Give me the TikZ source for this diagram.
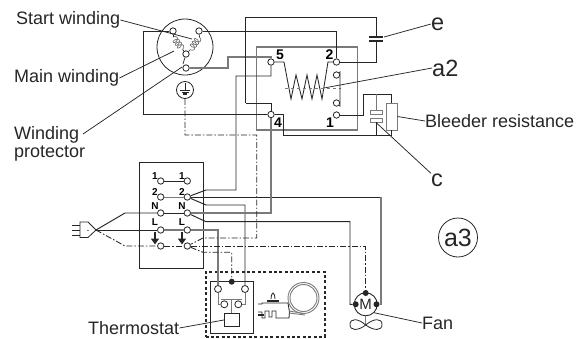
\documentclass[tikz,border=0pt]{standalone}
\usepackage{fontspec}
\setmainfont{Liberation Sans}
\usetikzlibrary{arrows.meta}
\usetikzlibrary{decorations.pathmorphing}
\definecolor{inkdark}{HTML}{262626}
\definecolor{wiregray}{HTML}{7A7A7A}
\tikzset{
  wire/.style={line width=.95pt, color=inkdark},
  graywire/.style={line width=1.3pt, color=wiregray},
  earthwire/.style={line width=.85pt, color=inkdark, dash pattern=on 6pt off 2pt on 1.5pt off 2pt},
  leader/.style={line width=.75pt, color=inkdark},
  coilwire/.style={decorate, decoration={coil,aspect=.6,segment length=3.4pt,amplitude=3.2pt},
    color=wiregray, line width=.75pt},
  box/.style={draw=inkdark, line width=.95pt, inner sep=0pt, minimum width=#1},
  term/.style={circle, draw=inkdark, line width=.8pt, fill=white, inner sep=0pt, minimum size=6.4pt},
  blackdot/.style={circle, fill=inkdark, inner sep=0pt, minimum size=6pt},
  label/.style={text=inkdark, font=\fontsize{18}{18}\selectfont, inner sep=0pt, anchor=west},
  biglabel/.style={text=inkdark, font=\fontsize{23.5}{24}\selectfont, inner sep=0pt, anchor=west},
  pin/.style={text=black, font=\fontsize{14}{14}\selectfont\bfseries, inner sep=0pt},
  rowpin/.style={text=black, font=\fontsize{10}{10}\selectfont\bfseries, inner sep=0pt},
}

\begin{document}
\begin{tikzpicture}[x=1pt,y=-1pt]

  \newcommand\XL{160.7}
  \newcommand\XR{187.3}

  \useasboundingbox (0,0) rectangle (579,338);

  %% boxes
  \node[circle, draw=inkdark, line width=.8pt, inner sep=0pt, minimum size=56pt] (comp) at (185,47) {};
  \node[box=100.7pt, draw=wiregray, line width=1.2pt, minimum height=83pt] (relay) at (307,88.5) {};
  \node[box=64pt, minimum height=106pt] (block) at (171.7,215) {};
  \node[box=119.3pt, line width=1.7pt, dash pattern=on 3pt off 2.4pt, minimum height=65pt] (kit) at (265.3,304.2) {};
  \node[box=43pt, minimum height=51.6pt] (thermo) at (231.5,307.5) {};
  \node[box=14.7pt, minimum height=13.4pt] (sensor) at (231.7,320) {};

  %% compressor terminals
  \node[term] (start) at (173,31) {};
  \node[term] (run) at (199,31) {};
  \node[term] (common) at (186,54) {};
  \node[term] (prot) at (186,68) {};
  \node[circle, draw=inkdark, line width=.8pt, inner sep=0pt, minimum size=17pt] (earth) at (185,90) {};
  \coordinate (coilAtop) at (173,37);
  \coordinate (coilAend) at (183,50);
  \coordinate (coilBtop) at (199.5,37);
  \coordinate (coilBend) at (190,50);

  %% relay terminals
  \node[term] (t5) at (271,62) {};
  \node[term] (t4) at (271,114.5) {};
  \node[term] (t2) at (336.5,62) {};
  \node[term] (t2b) at (336.5,75) {};
  \node[term] (t1b) at (336.5,103) {};
  \node[term] (t1) at (336.5,115) {};
  \node[pin] at (280,55) {5};
  \node[pin] at (329.5,55) {2};
  \node[pin] at (278,123) {4};
  \node[pin] at (330,123) {1};

  %% block terminals
  \node[term] (a1) at (\XL,181) {};
  \node[term] (b1) at (\XR,181) {};
  \node[term] (a2) at (\XL,197) {};
  \node[term] (b2) at (\XR,197) {};
  \node[term] (aN) at (\XL,213) {};
  \node[term] (bN) at (\XR,213) {};
  \node[term] (aL) at (\XL,230) {};
  \node[term] (bL) at (\XR,230) {};
  \node[term] (aE) at (\XL,246) {};
  \node[term] (bE) at (\XR,246) {};
  \node[rowpin] at (155,176) {1};
  \node[rowpin] at (182,176) {1};
  \node[rowpin] at (155,192) {2};
  \node[rowpin] at (182,192) {2};
  \node[rowpin] at (155,206) {N};
  \node[rowpin] at (182,206) {N};
  \node[rowpin] (pinL) at (155,222) {L};
  \node[rowpin] (pinLb) at (182,222) {L};

  %% thermostat terminals
  \node[term, minimum size=7pt] (thL) at (218,289) {};
  \node[term, minimum size=7pt] (thR) at (245,289) {};
  \node[term, minimum size=7pt] (thC) at (224.3,304.3) {};
  \node[term, minimum size=7pt] (thD) at (238.3,304.3) {};
  \node[blackdot] (thTop) at (231.7,281.7) {};

  %% motor
  \node[circle, draw=inkdark, line width=.9pt, inner sep=0pt, minimum size=23pt] (motor) at (365.7,304.3) {};
  \node[text=inkdark, font=\fontsize{15}{15}\selectfont] at (motor) {M};
  \node[blackdot] (mTop) at (365.7,293) {};
  \node[blackdot] (mLeft) at (355.7,304.3) {};
  \node[blackdot] (mRight) at (376.5,304.3) {};
  \coordinate (hub) at (365.7,325);

  %% capacitors and resistor
  \node[box=12pt, draw=wiregray, minimum height=4pt] (capTop) at (376,112) {};
  \node[box=12pt, draw=wiregray, minimum height=4pt] (capBot) at (376,120) {};
  \node[box=11pt, draw=wiregray, minimum height=27pt] (bleed) at (391.5,116.5) {};
  \coordinate (plateA) at (376,37);
  \coordinate (plateB) at (376,41);
  \coordinate (plug) at (96,230);

  %% labels
  \node[label] (lStart) at (16,20) {Start winding};
  \node[label] (lMain) at (14,78) {Main winding};
  \node[label, align=left] (lProt) at (14,144) {Winding\\protector};
  \node[label] (lBleed) at (425,121) {Bleeder resistance};
  \node[label] (lThermo) at (88,328) {Thermostat};
  \node[label] (lFan) at (422,323) {Fan};
  \node[biglabel] (lE) at (431,24) {e};
  \node[biglabel] (la2) at (432,68) {a2};
  \node[biglabel] (lC) at (431,180) {c};
  \node[circle, draw=inkdark, line width=.8pt, inner sep=0pt, minimum size=39pt,
    text=inkdark, font=\fontsize{25}{25}\selectfont] (la3) at (458,237.5) {a3};

  %% leaders
  \coordinate (startEnd) at (192,39);
  \coordinate (mainEnd) at (174,51);
  \coordinate (protEnd) at (182,67);
  \coordinate (protStart) at (83,134);
  \coordinate (capEnd) at (384,37);
  \coordinate (relayEnd) at (324,88);
  \draw[leader] (lStart.east) -- (startEnd);
  \draw[leader] (lMain.east) -- (mainEnd);
  \draw[leader] (protStart) -- (protEnd);
  \draw[leader] (capEnd) -- (lE.west);
  \draw[leader] (relayEnd) -- (la2.west);
  \draw[leader] (capBot.south) -- (lC.north west);
  \draw[leader] (bleed.east) -- (lBleed.west);
  \draw[leader] (lThermo.east) -- (sensor.west);
  \draw[leader] (motor.south east) -- (lFan.west);

  %% compressor
  \draw[coilwire] (coilAtop) -- (coilAend);
  \draw[coilwire] (coilBtop) -- (coilBend);
  \draw[wire, line width=.7pt] (start) -- (coilAtop);
  \draw[wire, line width=.7pt] (run) -- (coilBtop);
  \draw[wire, line width=.7pt] (coilAend) -- (common);
  \draw[wire, line width=.7pt] (coilBend) -- (common);
  \draw[wire, line width=.7pt] (common) -- (183,64);
  \draw[wire] (start) -- (143,31) -- (143,114.5) -- (t4);
  \draw[wire] (run) -- (336.5,31) -- (t2);
  \draw[graywire] (prot) -- (228,68) -- (228,57) -- (271,57) -- (t5);
  \draw[wire] (245.5,103) -- (245.5,17.5) -- (376,17.5) -- (plateA);
  \draw[wire] (t4) -- (271,103) -- (245.5,103);
  \draw[wire] (plateB) -- (376,62) -- (t2);
  \draw[wire, line width=1.2pt] (369,37) -- (383,37);
  \draw[wire, line width=1.2pt] (369,41) -- (383,41);

  %% earth symbol
  \draw[wire, line width=.8pt] (185,83) -- (185,90);
  \draw[wire, line width=1.3pt] (180,90.5) -- (190,90.5);
  \draw[wire, line width=1.2pt] (181.5,92.3) -- (188.5,92.3);
  \draw[wire, line width=1.2pt] (183.3,94) -- (186.7,94);

  %% relay coil
  \draw[wire, line width=.85pt] (t5) -- (284,62) -- (291,99) -- (296,75) -- (302,99)
    -- (307,75) -- (312,99) -- (317,75) -- (322,99) -- (328,62) -- (t2);
  \draw[graywire, dashed] (285,88.5) -- (341,88.5);
  \draw[wire] (t2b) -- (340,72) -- (340,106) -- (t1b);

  %% capacitor branch
  \draw[wire] (t1) -- (363,115) -- (363,94) -- (391.5,94) -- (bleed);
  \draw[graywire, line width=1pt] (376,94) -- (capTop);
  \draw[wire] (t4) -- (283,114.5) -- (283,135) -- (391.5,135) -- (bleed);
  \draw[wire] (capBot) -- (376,135);

  %% block wiring
  \draw[wire] (a1) -- (b1);
  \draw[graywire, line width=1pt] (a2) -- (b2);
  \draw[wire] (aN) -- (bN);
  \draw[graywire] (aL) -- (bL);
  \draw[wire] (b2) -- (206,190) -- (236,190) -- (236,76) -- (271,76) -- (t5);
  \draw[wire] (b2) -- (381,197);
  \draw[graywire] (381,197) -- (381,304.3) -- (mRight);
  \draw[wire] (b2) -- (206,205) -- (245,205) -- (thR);
  \draw[graywire] (bN) -- (271,213) -- (t4);
  \draw[wire] (bN) -- (206,221.7) -- (350,221.7) -- (350,304.3) -- (mLeft);
  \draw[graywire] (bL) -- (218,230) -- (thL);

  %% plug
  \draw[wire] (plug) -- (125,213) -- (aN);
  \draw[wire] (plug) -- (aL);
  \draw[earthwire] (plug) -- (125,246) -- (aE);
  \draw[wire, line width=.8pt] (80,222) -- (88,222) -- (plug) -- (88,237.5) -- (80,237.5) -- cycle;
  \draw[wire, line width=.8pt] (72,225) -- (80,225);
  \draw[wire, line width=.8pt] (72,230) -- (80,230);
  \draw[wire, line width=.8pt] (72,235) -- (80,235);
  \draw[wire, color=wiregray] (87,230) -- (89,230);

  %% switch arrows
  \draw[inkdark, line width=2.2pt, -{Triangle[width=8pt,length=6pt]}] (155,232) -- (155,244.5);
  \draw[inkdark, line width=2.2pt, -{Triangle[width=8pt,length=6pt]}] (182,232) -- (182,244.5);

  %% earth wires
  \draw[earthwire] (earth) -- (185,135) -- (256.7,135) -- (256.7,238) -- (203,238) -- (bE);
  \draw[earthwire] (aE) -- (bE);
  \draw[earthwire] (bE) -- (365.7,246) -- (mTop);
  \draw[earthwire] (bE) -- (203,252.3) -- (231.7,252.3) -- (thTop);

  %% thermostat inside
  \draw[wire, color=wiregray] (thL) -- (218,304.3) -- (thC);
  \draw[wire, color=wiregray] (thR) -- (245,304.3) -- (thD);
  \draw[wire, color=wiregray, line width=1.2pt] (220.7,299.3) -- (241.7,299.3);
  \draw[wire, color=wiregray] (231.7,299.3) -- (sensor);

  %% thermostat part
  \draw[wire, line width=.85pt] (258,304) -- (262,304) -- (262,303) -- (288,303) -- (289.5,312) -- (289,318)
    -- (276,318) -- (276,311) -- (272,311) -- (272,317) -- (269,317) -- (269,311) -- (265,311)
    -- (265,318) -- (262,318) -- (262,312) -- (258,312);
  \draw[wire, line width=.85pt] (271,299) -- (271.5,295) -- (273,293) -- (274.5,295) -- (275,299);
  \draw[wire, line width=1.6pt] (267,301) -- (279,301);
  \draw[wire, line width=1.6pt] (258,315) -- (264,315);
  \draw[wire, color=wiregray, line width=.9pt] (303.5,298) circle (15.5);
  \draw[wire, color=wiregray, line width=.9pt] (303.5,298) circle (13.5);
  \draw[wire, color=wiregray, line width=.9pt] (289,311) -- (304,313.5);
  \draw[wire, color=wiregray, line width=.9pt] (289,313) -- (305,315);

  %% fan
  \draw[graywire, line width=1pt] (motor) -- (hub);
  \draw[wire, line width=.8pt] (hub) .. controls (358,318) and (350,318) .. (350,324.5)
    .. controls (350,331) and (358,331) .. (hub);
  \draw[wire, line width=.8pt] (hub) .. controls (374,318) and (382,318) .. (382,324.5)
    .. controls (382,331) and (374,331) .. (hub);

\end{tikzpicture}
\end{document}
